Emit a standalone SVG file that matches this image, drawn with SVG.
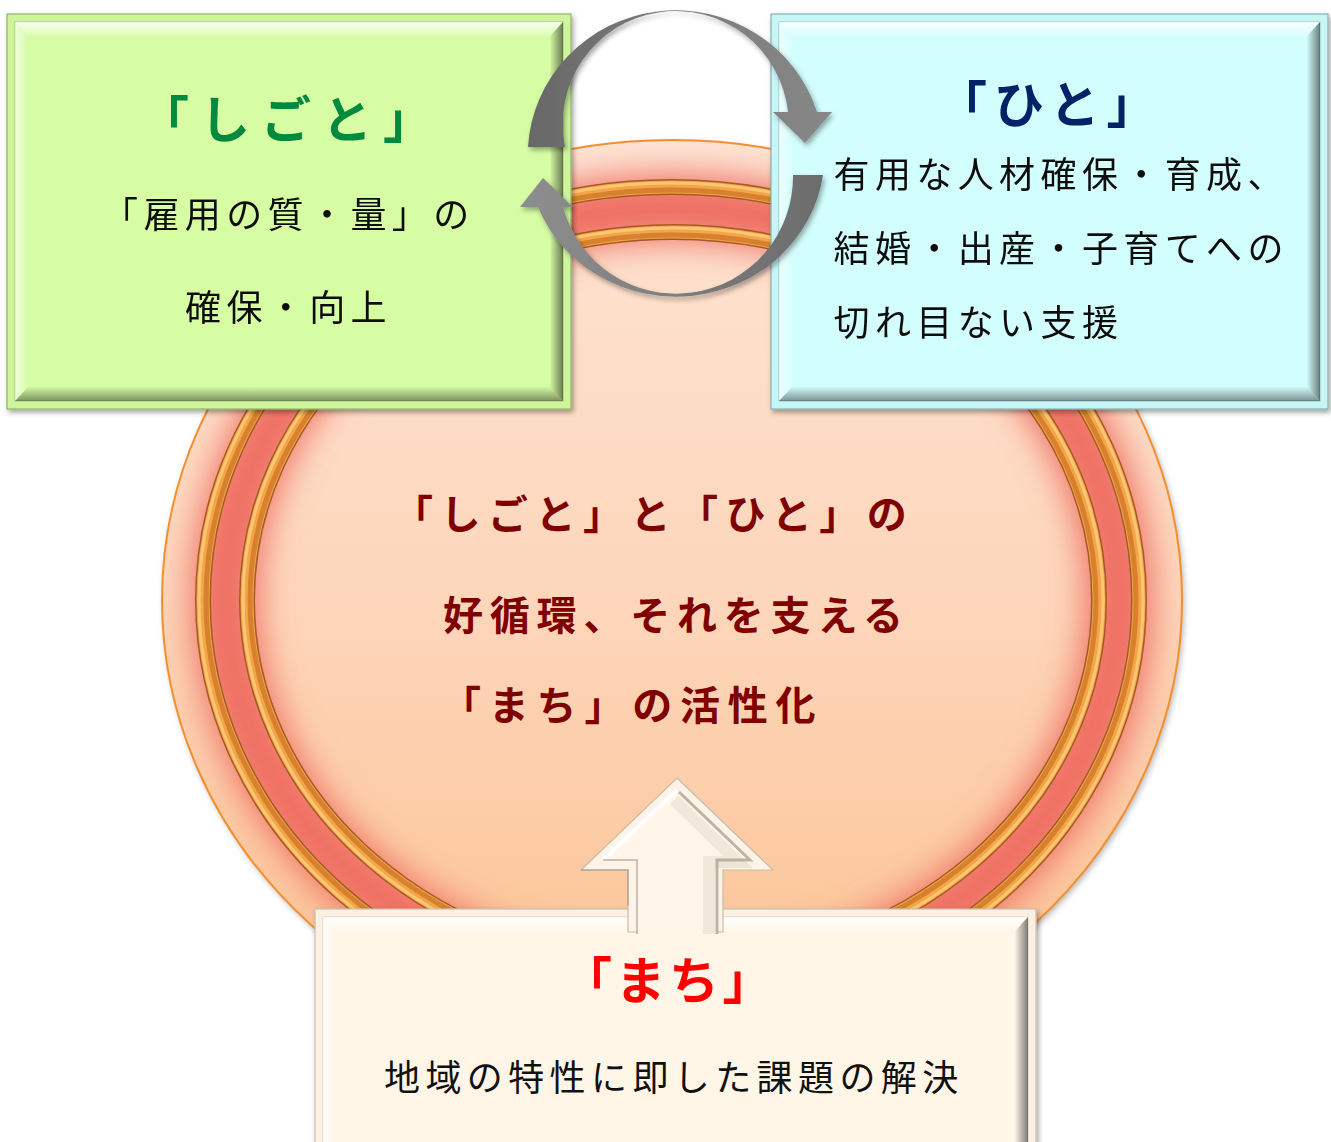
<svg xmlns="http://www.w3.org/2000/svg" width="1331" height="1142" viewBox="0 0 1331 1142">
<style>
.t{font-family:"Noto Sans CJK JP","Noto Sans CJK SC",sans-serif;}
.body{font-size:36px;fill:#111;letter-spacing:5.4px;}
.ttl{font-size:50px;font-weight:bold;}
.ctr{font-size:40px;font-weight:bold;fill:#800000;}
.ring-o{fill:none;stroke:#a55a26;stroke-width:16;}
.ring-m{fill:none;stroke:#f4a547;stroke-width:13;}
.ring-d{fill:none;stroke:#d7812f;stroke-width:5;}
.ring-h{fill:none;stroke:#fcc775;stroke-width:3;}
</style>
<defs>
<linearGradient id="bg" x1="0" y1="0" x2="0" y2="1">
<stop offset="0" stop-color="#fde4d3"/><stop offset="0.5" stop-color="#fdd6bb"/><stop offset="1" stop-color="#fbc18f"/>
</linearGradient>
<filter id="blurRed" x="-20%" y="-20%" width="140%" height="140%"><feGaussianBlur stdDeviation="17"/></filter>
<filter id="shadow" x="-10%" y="-10%" width="120%" height="120%"><feDropShadow dx="2" dy="3" stdDeviation="3" flood-color="#000" flood-opacity="0.3"/></filter>
<filter id="shadowS" x="-10%" y="-10%" width="120%" height="120%"><feDropShadow dx="2" dy="3" stdDeviation="2.5" flood-color="#000" flood-opacity="0.35"/></filter>
<clipPath id="ellClip"><ellipse cx="672" cy="600" rx="510" ry="460"/></clipPath>
<linearGradient id="bvTop" x1="0" y1="0" x2="0" y2="1"><stop offset="0" stop-color="#fff" stop-opacity="0.85"/><stop offset="1" stop-color="#fff" stop-opacity="0.15"/></linearGradient>
<linearGradient id="bvLeft" x1="0" y1="0" x2="1" y2="0"><stop offset="0" stop-color="#fff" stop-opacity="0.6"/><stop offset="1" stop-color="#fff" stop-opacity="0.05"/></linearGradient>
<linearGradient id="bvBot" x1="0" y1="0" x2="0" y2="1"><stop offset="0" stop-color="#000" stop-opacity="0.02"/><stop offset="1" stop-color="#000" stop-opacity="0.42"/></linearGradient>
<linearGradient id="bvRight" x1="0" y1="0" x2="1" y2="0"><stop offset="0" stop-color="#000" stop-opacity="0.02"/><stop offset="1" stop-color="#000" stop-opacity="0.5"/></linearGradient>
<linearGradient id="gUp" x1="0" y1="0" x2="1" y2="0"><stop offset="0" stop-color="#686868"/><stop offset="0.5" stop-color="#7c7c7c"/><stop offset="1" stop-color="#878787"/></linearGradient>
<linearGradient id="gLo" x1="1" y1="0" x2="0" y2="0"><stop offset="0" stop-color="#6c6c6c"/><stop offset="0.5" stop-color="#7e7e7e"/><stop offset="1" stop-color="#8e8e8e"/></linearGradient>
</defs>

<!-- central ellipse -->
<g id="circle">
<ellipse cx="672" cy="600" rx="510" ry="460" fill="url(#bg)" filter="url(#shadow)"/>
<g clip-path="url(#ellClip)">
<ellipse cx="672" cy="600" rx="447" ry="392" fill="none" stroke="#ef6e62" stroke-width="66" filter="url(#blurRed)"/>
</g>
<ellipse cx="672" cy="600" rx="510" ry="460" fill="none" stroke="#f58f2e" stroke-width="2"/>
<ellipse class="ring-o" cx="671" cy="600" rx="468" ry="413"/>
<ellipse class="ring-m" cx="671" cy="600" rx="468" ry="413"/>
<ellipse class="ring-d" cx="671" cy="600" rx="465" ry="410"/>
<ellipse class="ring-h" cx="671" cy="600" rx="472" ry="417"/>
<ellipse class="ring-o" cx="673" cy="600" rx="426" ry="368"/>
<ellipse class="ring-m" cx="673" cy="600" rx="426" ry="368"/>
<ellipse class="ring-d" cx="673" cy="600" rx="423" ry="365"/>
<ellipse class="ring-h" cx="673" cy="600" rx="430" ry="372"/>
<text class="t ctr" x="393" y="529" letter-spacing="7.5">「しごと」と「ひと」の</text>
<text class="t ctr" x="443" y="630" letter-spacing="6.8">好循環、それを支える</text>
<text class="t ctr" x="441" y="720" letter-spacing="7.8">「まち」の活性化</text>
</g>

<!-- green box -->
<g id="shigoto" filter="url(#shadowS)">
<rect x="7" y="14" width="564" height="395" fill="#cff59c" stroke="#8fb466" stroke-width="1.2"/>
<rect x="15" y="22" width="548" height="379" fill="#d6fca4" stroke="#9fc275" stroke-width="1"/>
<polygon points="15,22 563,22 550,36 28,36" fill="url(#bvTop)"/>
<polygon points="15,22 28,36 28,387 15,401" fill="url(#bvLeft)"/>
<polygon points="15,401 28,387 550,387 563,401" fill="url(#bvBot)"/>
<polygon points="563,22 563,401 550,387 550,36" fill="url(#bvRight)"/>
<text class="t ttl" x="139" y="138" fill="#008a3e" letter-spacing="11">「しごと」</text>
<text class="t body" x="102" y="228">「雇用の質・量」の</text>
<text class="t body" x="185" y="321">確保・向上</text>
</g>

<!-- cyan box -->
<g id="hito" filter="url(#shadowS)">
<rect x="771" y="14" width="557" height="395" fill="#c8f6f6" stroke="#84b2b2" stroke-width="1.2"/>
<rect x="779" y="22" width="541" height="379" fill="#d3fefe" stroke="#92c0c0" stroke-width="1"/>
<polygon points="779,22 1320,22 1307,36 792,36" fill="url(#bvTop)"/>
<polygon points="779,22 792,36 792,387 779,401" fill="url(#bvLeft)"/>
<polygon points="779,401 792,387 1307,387 1320,401" fill="url(#bvBot)"/>
<polygon points="1320,22 1320,401 1307,387 1307,36" fill="url(#bvRight)"/>
<text class="t ttl" x="937" y="123" fill="#002266" letter-spacing="7">「ひと」</text>
<text class="t body" x="833.5" y="187.5" letter-spacing="5.5">有用な人材確保・育成、</text>
<text class="t body" x="833.5" y="261.5" letter-spacing="5.5">結婚・出産・子育てへの</text>
<text class="t body" x="833.5" y="335.5" letter-spacing="5.5">切れ目ない支援</text>
</g>

<!-- bottom box -->
<g id="machi">
<g filter="url(#shadowS)">
<rect x="315" y="909" width="721" height="240" fill="#fbf0e2" stroke="#cdbfae" stroke-width="1.2"/>
<rect x="323" y="917" width="705" height="230" fill="#fff6e8" stroke="#d8ccbc" stroke-width="1"/>
<polygon points="323,917 1028,917 1015,931 336,931" fill="url(#bvTop)"/>
<polygon points="323,917 336,931 336,1147 323,1147" fill="url(#bvLeft)"/>
<polygon points="1028,917 1028,1147 1015,1147 1015,931" fill="url(#bvRight)"/>
</g>
<text class="t ttl" x="562" y="999" fill="#ff0000" font-size="52" letter-spacing="3.5">「まち」</text>
<text class="t body" x="384" y="1090.5" letter-spacing="5.1">地域の特性に即した課題の解決</text>
</g>

<!-- up arrow -->
<g id="up-arrow">
<polygon points="677,778 773,870 723,870 723,932 628,932 628,870 581,870" fill="#fdf3e6" stroke="#c9bbaa" stroke-width="1.2"/>
<polygon points="677,790 752,860 717,860 717,934 637,934 637,860 603,860" fill="#fff6e9"/>
<polyline points="603,860 677,790" fill="none" stroke="#ffffff" stroke-width="4"/>
<polyline points="679,792 750,860 717,860 717,934" fill="none" stroke="#a89c8f" stroke-width="3" stroke-opacity="0.75"/>
<polyline points="674,800 738,862 709,862 709,934" fill="none" stroke="#b0a496" stroke-width="12" stroke-opacity="0.18"/>
<polyline points="637,934 637,860 603,860" fill="none" stroke="#b7ab9d" stroke-width="2" stroke-opacity="0.7"/>
<polyline points="628,905 628,870 581,870" fill="none" stroke="#9d9184" stroke-width="1.5" stroke-opacity="0.6"/>
</g>

<!-- cycle arrows -->
<g id="connectors" filter="url(#shadowS)">
<path d="M528,147 A148,145 0 0 1 817,112 L832,112 L805,143 L773,112 L788,112 A113,113 0 1 0 565,147 Z" fill="url(#gUp)"/>
<path d="M823,175 A148.5,142 0 0 1 538,207 L520,207 L543,178 L573,207 L563,207 A117,117 0 0 0 793,175 Z" fill="url(#gLo)"/>
</g>
</svg>
